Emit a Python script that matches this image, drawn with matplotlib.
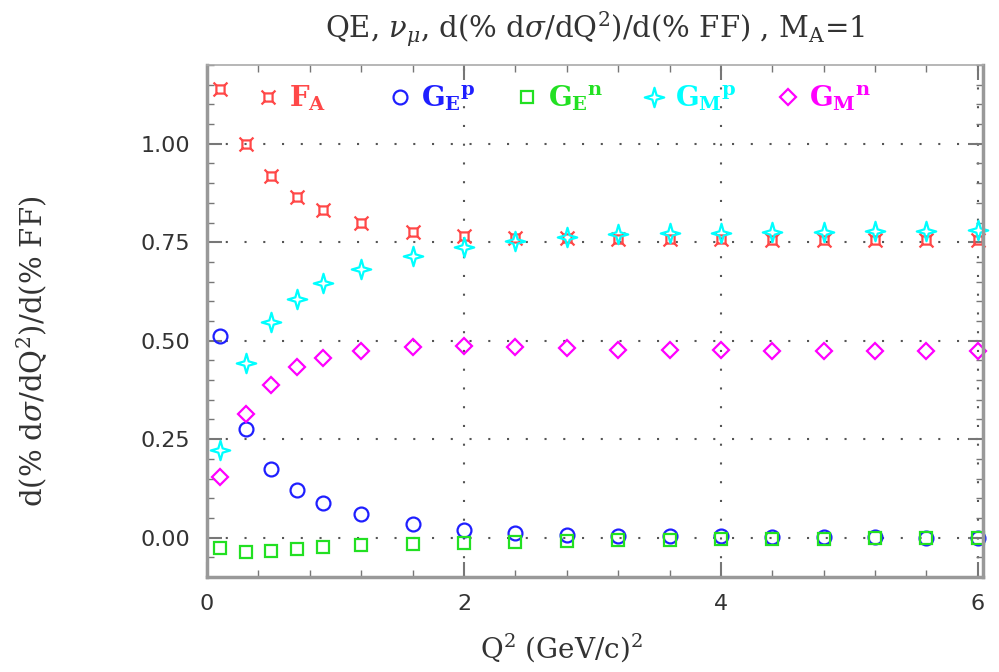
import matplotlib
matplotlib.use('Agg')
import matplotlib.pyplot as plt
import numpy as np
from matplotlib.path import Path
from matplotlib.ticker import MultipleLocator

# --- data ---
q2 = [0.1, 0.3, 0.5, 0.7, 0.9, 1.2, 1.6, 2.0, 2.4, 2.8, 3.2, 3.6, 4.0, 4.4, 4.8, 5.2, 5.6, 6.0]

fa = [1.140, 1.000, 0.919, 0.866, 0.832, 0.800, 0.777, 0.766, 0.760, 0.760,
      0.758, 0.757, 0.757, 0.756, 0.756, 0.756, 0.755, 0.755]
gep = [0.512, 0.275, 0.173, 0.120, 0.088, 0.060, 0.035, 0.020, 0.012, 0.007,
       0.005, 0.004, 0.003, 0.002, 0.001, 0.001, 0.000, 0.000]
gen = [-0.026, -0.036, -0.033, -0.030, -0.025, -0.020, -0.016, -0.014, -0.011, -0.009,
       -0.006, -0.005, -0.004, -0.003, -0.003, -0.002, -0.002, -0.002]
gmp = [0.222, 0.443, 0.548, 0.607, 0.646, 0.681, 0.716, 0.738, 0.753, 0.762,
       0.770, 0.774, 0.774, 0.777, 0.777, 0.779, 0.779, 0.781]
gmn = [0.153, 0.314, 0.388, 0.432, 0.457, 0.475, 0.485, 0.486, 0.485, 0.481,
       0.477, 0.476, 0.476, 0.475, 0.474, 0.474, 0.474, 0.473]

labels = [r'$\mathbf{F_A}$', r'$\mathbf{G_E{}^p}$', r'$\mathbf{G_E{}^n}$',
          r'$\mathbf{G_M{}^p}$', r'$\mathbf{G_M{}^n}$']
colors = ['#ff4848', '#1f1fff', '#22e022', '#00ffff', '#ff00ff']

plt.rcParams['mathtext.fontset'] = 'custom'
plt.rcParams['mathtext.rm'] = 'DejaVu Serif'
plt.rcParams['mathtext.it'] = 'DejaVu Serif:italic'
plt.rcParams['mathtext.bf'] = 'DejaVu Serif:bold'

# square with little spurs at the corners (F_A)
s = 0.5
t = 0.85
sq_verts = [(-s, -s), (s, -s), (s, s), (-s, s), (-s, -s),
            (s, s), (t, t), (-s, s), (-t, t), (-s, -s), (-t, -t), (s, -s), (t, -t)]
sq_codes = [Path.MOVETO, Path.LINETO, Path.LINETO, Path.LINETO, Path.LINETO,
            Path.MOVETO, Path.LINETO, Path.MOVETO, Path.LINETO,
            Path.MOVETO, Path.LINETO, Path.MOVETO, Path.LINETO]
spur_square = Path(sq_verts, sq_codes)

# four pointed star (G_M^p)
i = 0.22
star_verts = [(0, 1), (i, i), (1, 0), (i, -i), (0, -1), (-i, -i), (-1, 0), (-i, i), (0, 1)]
star4 = Path(star_verts, [Path.MOVETO] + [Path.LINETO] * 7 + [Path.CLOSEPOLY])

fig = plt.figure(figsize=(9.99, 6.72), dpi=100)
ax = fig.add_axes([0.2072, 0.1414, 0.7768, 0.7619])

series = [fa, gep, gen, gmp, gmn]
markers = [spur_square, 'o', 's', star4, 'D']
sizes = [10, 10, 9, 14, 8]
handles = []
for y, m, ms, c, lab in zip(series, markers, sizes, colors, labels):
    h, = ax.plot(q2, y, linestyle='none', marker=m, markersize=ms, markerfacecolor='none',
                 markeredgecolor=c, markeredgewidth=1.6, color=c, label=lab, clip_on=False)
    handles.append(h)

ax.set_xlim(0, 6.04)
ax.set_ylim(-0.1, 1.2)
ax.xaxis.set_major_locator(MultipleLocator(2))
ax.xaxis.set_minor_locator(MultipleLocator(0.4))
ax.yaxis.set_minor_locator(MultipleLocator(0.05))
ax.set_yticks([0, 0.25, 0.5, 0.75, 1.0])
ax.set_yticklabels(['0.00', '0.25', '0.50', '0.75', '1.00'])
ax.tick_params(which='both', direction='in', top=True, right=True, colors='#777777',
               labelcolor='#333333', labelsize=16, pad=12)
ax.tick_params(which='major', length=11, width=1.5)
ax.tick_params(which='minor', length=5, width=1)
ax.grid(True, which='major', color='#555555', linestyle=(0, (1, 8)), linewidth=1.5)

for side in ['left', 'bottom', 'right']:
    ax.spines[side].set_color('#999999')
    ax.spines[side].set_linewidth(2.5)
ax.spines['top'].set_color('#aaaaaa')
ax.spines['top'].set_linewidth(1.2)

serif = {'family': 'DejaVu Serif', 'color': '#333333'}
ax.set_title(r'QE, $\nu_\mu$, d(% d$\sigma$/dQ$^2$)/d(% FF) , M$_\mathrm{A}$=1',
             fontdict=serif, fontsize=21, pad=19)
ax.set_xlabel(r'Q$^2$ (GeV/c)$^2$', fontdict=serif, fontsize=20)
ax.xaxis.set_label_coords(0.457, -0.105)
ax.set_ylabel(r'd(% d$\sigma$/dQ$^2$)/d(% FF)', fontdict=serif, fontsize=21)
ax.yaxis.set_label_coords(-0.202, 0.44)

# legend in two pieces so the entries sit at the even spacing of the original
leg_kw = dict(frameon=False, labelcolor='linecolor', loc='upper left',
              prop={'family': 'DejaVu Serif', 'size': 20},
              handlelength=0.8, handletextpad=0.35, columnspacing=1.45, borderaxespad=0.5)
leg1 = ax.legend(handles[:1], labels[:1], bbox_to_anchor=(0.032, 1.013), ncol=1, **leg_kw)
ax.add_artist(leg1)
ax.legend(handles[1:], labels[1:], bbox_to_anchor=(0.202, 1.013), ncol=4, **leg_kw)

fig.savefig('out.png', dpi=100)
